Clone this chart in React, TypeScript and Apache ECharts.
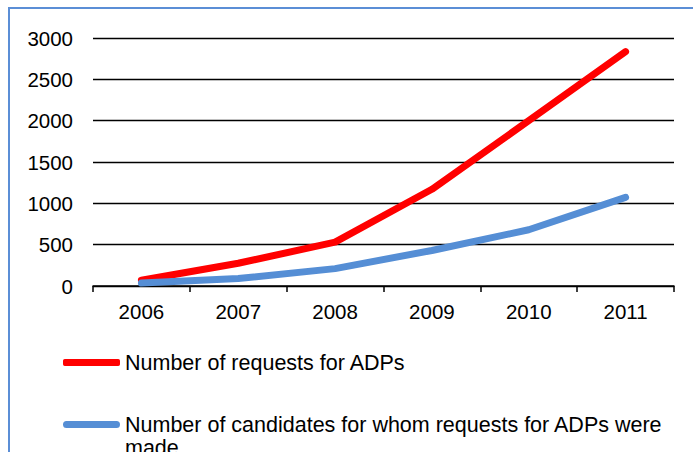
import React, { useEffect, useRef } from "react";
import * as echarts from "echarts";

const years = ["2006", "2007", "2008", "2009", "2010", "2011"];
const requests = [70, 275, 530, 1170, 2000, 2835];
const candidates = [35, 90, 210, 430, 680, 1072];
const seriesNames = [
  "Number of requests for ADPs",
  "Number of candidates for whom requests for ADPs were made",
];
const yTicks = { min: 0, max: 3000, interval: 500 };

const FONT = "'Liberation Sans', Arial, sans-serif";
// rounded bar at the top of a taller (invisible) box so the swatch lines up with the first text line
const TOP_BAR_ICON =
  "path://M3.5 0 L53.5 0 A3.5 3.5 0 0 1 53.5 7 L3.5 7 A3.5 3.5 0 0 1 3.5 0 Z M0 30 L0.01 30 Z";

export default function App() {
  const ref = useRef<HTMLDivElement>(null);
  useEffect(() => {
    if (!ref.current) return;
    const chart = echarts.init(ref.current, null, { renderer: "svg" });
    const legendText = {
      color: "#000",
      fontSize: 21.5,
      fontFamily: FONT,
      width: 545,
      overflow: "break",
      lineHeight: 23,
    };
    chart.setOption({
      animation: false,
      backgroundColor: "#ffffff",
      textStyle: { fontFamily: FONT },
      graphic: [
        {
          type: "rect",
          z: -1,
          shape: { x: 9, y: 8, width: 800, height: 600 },
          style: { fill: "none", stroke: "#5B8ED6", lineWidth: 2 },
          silent: true,
        },
      ],
      grid: { left: 93, top: 38, width: 581, height: 248, containLabel: false },
      xAxis: {
        type: "category",
        data: years,
        boundaryGap: true,
        axisLine: { show: true, lineStyle: { color: "#000", width: 1.5 } },
        axisTick: { show: true, length: 6, lineStyle: { color: "#000", width: 1.5 } },
        axisLabel: { color: "#000", fontSize: 20.5, fontFamily: FONT, margin: 15 },
        splitLine: { show: false },
      },
      yAxis: {
        type: "value",
        min: yTicks.min,
        max: yTicks.max,
        interval: yTicks.interval,
        axisLine: { show: false },
        axisTick: { show: false },
        axisLabel: {
          color: "#000",
          fontSize: 20.5,
          fontFamily: FONT,
          margin: 20,
          formatter: (v: number) => String(v),
        },
        splitLine: { show: true, lineStyle: { color: "#000", width: 1.4 } },
      },
      legend: [
        {
          orient: "vertical",
          left: 58,
          top: 346,
          height: 200,
          itemWidth: 57,
          itemHeight: 7,
          icon: "roundRect",
          selectedMode: false,
          textStyle: legendText,
          data: [{ name: seriesNames[0], itemStyle: { color: "#FF0000" } }],
        },
        {
          orient: "vertical",
          left: 58,
          top: 408,
          height: 200,
          itemWidth: 57,
          itemHeight: 30,
          icon: TOP_BAR_ICON,
          selectedMode: false,
          textStyle: legendText,
          data: [{ name: seriesNames[1], itemStyle: { color: "#558ED5" } }],
        },
      ],
      series: [
        {
          name: seriesNames[0],
          type: "line",
          data: requests,
          symbol: "none",
          smooth: false,
          color: "#FF0000",
          lineStyle: { color: "#FF0000", width: 7, cap: "round", join: "round" },
          z: 3,
        },
        {
          name: seriesNames[1],
          type: "line",
          data: candidates,
          symbol: "none",
          smooth: false,
          color: "#558ED5",
          lineStyle: { color: "#558ED5", width: 7, cap: "round", join: "round" },
          z: 4,
        },
      ],
    });
    return () => chart.dispose();
  }, []);
  return (
    <div
      ref={ref}
      style={{ position: "fixed", left: 0, top: 0, width: 693, height: 452 }}
    />
  );
}
